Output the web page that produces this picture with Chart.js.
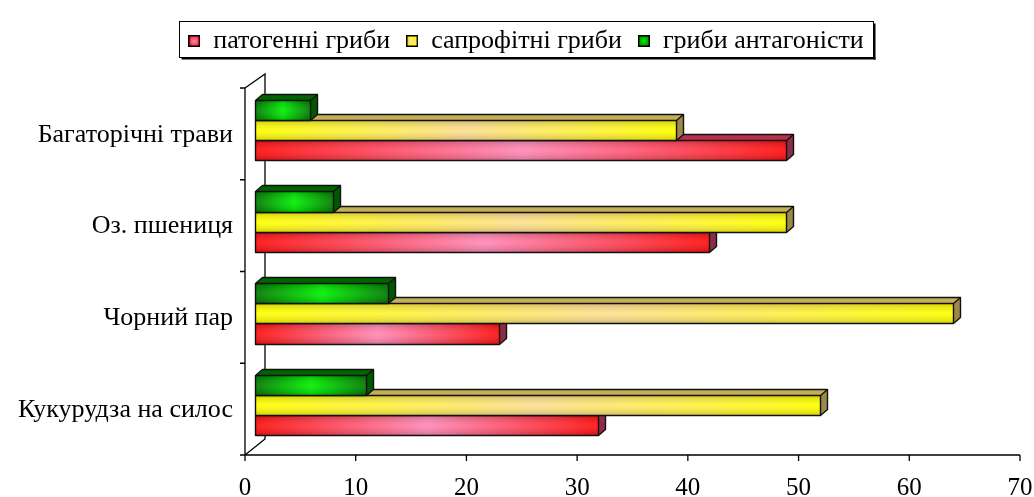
<!DOCTYPE html>
<html>
<head>
<meta charset="utf-8">
<script src="https://cdn.jsdelivr.net/npm/chart.js@4.4.0/dist/chart.umd.min.js"></script>
<style>
  html, body { margin: 0; padding: 0; background: #fff; }
  #wrap { width: 1034px; height: 497px; position: relative; }
</style>
</head>
<body>
<div id="wrap"><canvas id="chart"></canvas></div>
<script>
// Chart data (top category first)
const categories = ['Багаторічні трави', 'Оз. пшениця', 'Чорний пар', 'Кукурудза на силос'];
const pathogenic = [48, 41, 22, 31];
const saprophytic = [38, 48, 63, 51];
const antagonist = [5, 7, 12, 10];
const seriesNames = ['патогенні гриби', 'сапрофітні гриби', 'гриби антагоністи'];
const xMin = 0, xMax = 70, xStep = 10;

const FONT = '"Liberation Serif", "Times New Roman", serif';

// Colours for each series: front gradient stops, top face, side face
const looks = {
    red: { edge: '#ff1010', mid: '#ff8ab8', top: '#b8304c', side: '#8c2c48' },
    yellow: { edge: '#ffff00', mid: '#ffe092', top: '#c4ae58', side: '#9c8848' },
    green: { edge: '#007a00', mid: '#00f000', top: '#006400', side: '#005800' }
};

// Small gradient squares for the legend
function makeSwatch(look) {
    const c = document.createElement('canvas');
    c.width = 12; c.height = 12;
    const g = c.getContext('2d');
    const rg = g.createRadialGradient(6, 6, 0, 6, 6, 7);
    rg.addColorStop(0, look.mid);
    rg.addColorStop(1, look.edge);
    g.fillStyle = rg;
    g.fillRect(0, 0, 12, 12);
    g.strokeStyle = '#000';
    g.lineWidth = 1.5;
    g.strokeRect(0.75, 0.75, 10.5, 10.5);
    return c;
}

// Datasets: top bar in each group first
const datasets = [
    { label: seriesNames[2], data: antagonist, look: looks.green },
    { label: seriesNames[1], data: saprophytic, look: looks.yellow },
    { label: seriesNames[0], data: pathogenic, look: looks.red }
].map(d => ({
    label: d.label,
    data: d.data,
    look: d.look,
    swatch: makeSwatch(d.look),
    backgroundColor: 'rgba(0,0,0,0)',
    borderWidth: 0
}));

const DEPTH_X = 7, DEPTH_Y = 6;
const LEGEND_HEIGHT = 72;

// Keep a fixed gap between the legend and the plot
const legendGapPlugin = {
    id: 'legendGap',
    beforeLayout(chart) {
        const lg = chart.legend;
        if (lg && !lg._gapWrapped) {
            const fit = lg.fit.bind(lg);
            lg.fit = function () { fit(); this.height = LEGEND_HEIGHT; };
            lg._gapWrapped = true;
        }
    }
};

// Draw the walls / axes lines of the 3D box
const wallsPlugin = {
    id: 'walls',
    beforeDatasetsDraw(chart) {
        const ctx = chart.ctx;
        const a = chart.chartArea;
        const xs = chart.scales.x;
        const fx = a.left - 10, fyT = a.top + 4, fyB = a.bottom + 4;
        const bx = fx + 20, byT = fyT - 14, byB = fyB - 16;
        ctx.save();
        ctx.strokeStyle = '#000';
        ctx.lineWidth = 1.3;
        ctx.beginPath();
        // front vertical axis
        ctx.moveTo(fx, fyT); ctx.lineTo(fx, fyB);
        // back wall
        ctx.moveTo(fx, fyT); ctx.lineTo(bx, byT); ctx.lineTo(bx, byB); ctx.lineTo(fx, fyB);
        // bottom axis
        ctx.moveTo(fx, fyB); ctx.lineTo(xs.getPixelForValue(xMax) - 10, fyB);
        // ticks on the bottom axis
        for (let v = xMin; v <= xMax; v += xStep) {
            const px = xs.getPixelForValue(v) - 10;
            ctx.moveTo(px, fyB); ctx.lineTo(px, fyB + 6);
        }
        // category ticks on the left axis
        const band = a.height / categories.length;
        for (let k = 0; k <= categories.length; k++) {
            const py = fyT + k * band;
            ctx.moveTo(fx - 5, py); ctx.lineTo(fx, py);
        }
        ctx.stroke();
        ctx.restore();
    }
};

// Draw each bar as a 3D box at the position Chart.js computed
const bars3dPlugin = {
    id: 'bars3d',
    afterDatasetsDraw(chart) {
        const ctx = chart.ctx;
        ctx.save();
        ctx.lineJoin = 'round';
        for (let di = chart.data.datasets.length - 1; di >= 0; di--) {
            const ds = chart.data.datasets[di];
            const meta = chart.getDatasetMeta(di);
            const look = ds.look;
            meta.data.forEach(el => {
                const p = el.getProps(['x', 'y', 'base', 'height'], true);
                const l = Math.round(Math.min(p.base, p.x)) + 0.5;
                const r = Math.round(Math.max(p.base, p.x)) + 0.5;
                const t = Math.round(p.y - p.height / 2) + 0.5;
                const b = Math.round(p.y + p.height / 2) + 0.5;

                // front face
                const hg = ctx.createLinearGradient(l, 0, r, 0);
                hg.addColorStop(0, look.edge);
                hg.addColorStop(0.5, look.mid);
                hg.addColorStop(1, look.edge);
                ctx.fillStyle = hg;
                ctx.fillRect(l, t, r - l, b - t);
                const vg = ctx.createLinearGradient(0, t, 0, b);
                vg.addColorStop(0, 'rgba(0,0,0,0.18)');
                vg.addColorStop(0.5, 'rgba(255,255,255,0.08)');
                vg.addColorStop(1, 'rgba(0,0,0,0.18)');
                ctx.fillStyle = vg;
                ctx.fillRect(l, t, r - l, b - t);

                // top face
                ctx.beginPath();
                ctx.moveTo(l, t);
                ctx.lineTo(l + DEPTH_X, t - DEPTH_Y);
                ctx.lineTo(r + DEPTH_X, t - DEPTH_Y);
                ctx.lineTo(r, t);
                ctx.closePath();
                ctx.fillStyle = look.top;
                ctx.fill();

                // side face
                ctx.beginPath();
                ctx.moveTo(r, t);
                ctx.lineTo(r + DEPTH_X, t - DEPTH_Y);
                ctx.lineTo(r + DEPTH_X, b - DEPTH_Y);
                ctx.lineTo(r, b);
                ctx.closePath();
                ctx.fillStyle = look.side;
                ctx.fill();

                // outlines
                ctx.strokeStyle = '#111';
                ctx.lineWidth = 1.4;
                ctx.beginPath();
                ctx.rect(l, t, r - l, b - t);
                ctx.moveTo(l, t); ctx.lineTo(l + DEPTH_X, t - DEPTH_Y);
                ctx.lineTo(r + DEPTH_X, t - DEPTH_Y); ctx.lineTo(r, t);
                ctx.moveTo(r + DEPTH_X, t - DEPTH_Y); ctx.lineTo(r + DEPTH_X, b - DEPTH_Y);
                ctx.lineTo(r, b);
                ctx.stroke();
            });
        }
        ctx.restore();
    }
};

// Frame with a small shadow around the legend
const legendBoxPlugin = {
    id: 'legendBox',
    afterDraw(chart) {
        const boxes = chart.legend && chart.legend.legendHitBoxes;
        if (!boxes || !boxes.length) return;
        const first = boxes[0], last = boxes[boxes.length - 1];
        const x0 = Math.round(first.left - 9) + 0.5;
        const x1 = Math.round(last.left + last.width + 9) + 0.5;
        const y0 = Math.round(first.top - 7) + 0.5;
        const y1 = Math.round(first.top + first.height + 3) + 0.5;
        const ctx = chart.ctx;
        ctx.save();
        ctx.fillStyle = '#000';
        ctx.fillRect(x0 + 2, y1, x1 - x0, 2);
        ctx.fillRect(x1, y0 + 2, 2, y1 - y0);
        ctx.strokeStyle = '#000';
        ctx.lineWidth = 1;
        ctx.strokeRect(x0, y0, x1 - x0, y1 - y0);
        ctx.restore();
    }
};

new Chart(document.getElementById('chart'), {
    type: 'bar',
    data: { labels: categories, datasets: datasets },
    options: {
        indexAxis: 'y',
        responsive: true,
        maintainAspectRatio: false,
        animation: false,
        layout: { padding: { left: 10, right: -8, top: 12, bottom: 0 } },
        datasets: { bar: { categoryPercentage: 0.66, barPercentage: 1.0 } },
        scales: {
            x: {
                min: xMin, max: xMax,
                grid: { display: false, drawTicks: false },
                border: { display: false },
                ticks: {
                    stepSize: xStep,
                    color: '#000',
                    padding: 22,
                    labelOffset: -10,
                    font: { family: FONT, size: 25 }
                },
                afterFit(s) { s.height = 46; s.paddingRight = 4; s.paddingLeft = 0; }
            },
            y: {
                grid: { display: false, drawTicks: false },
                border: { display: false },
                ticks: {
                    color: '#000',
                    padding: 22,
                    labelOffset: 5,
                    font: { family: FONT, size: 26 }
                },
                afterFit(s) { s.width = 245; }
            }
        },
        plugins: {
            tooltip: { enabled: false },
            legend: {
                position: 'top',
                labels: {
                    generateLabels(chart) {
                        return [2, 1, 0].map(i => ({
                            text: chart.data.datasets[i].label,
                            pointStyle: chart.data.datasets[i].swatch,
                            fillStyle: chart.data.datasets[i].look.mid,
                            strokeStyle: '#000',
                            lineWidth: 1,
                            fontColor: '#000',
                            hidden: false,
                            datasetIndex: i
                        }));
                    },
                    usePointStyle: true,
                    boxWidth: 12,
                    boxHeight: 12,
                    padding: 16,
                    color: '#000',
                    font: { family: FONT, size: 26 }
                }
            }
        }
    },
    plugins: [legendGapPlugin, wallsPlugin, bars3dPlugin, legendBoxPlugin]
});
</script>
</body>
</html>
